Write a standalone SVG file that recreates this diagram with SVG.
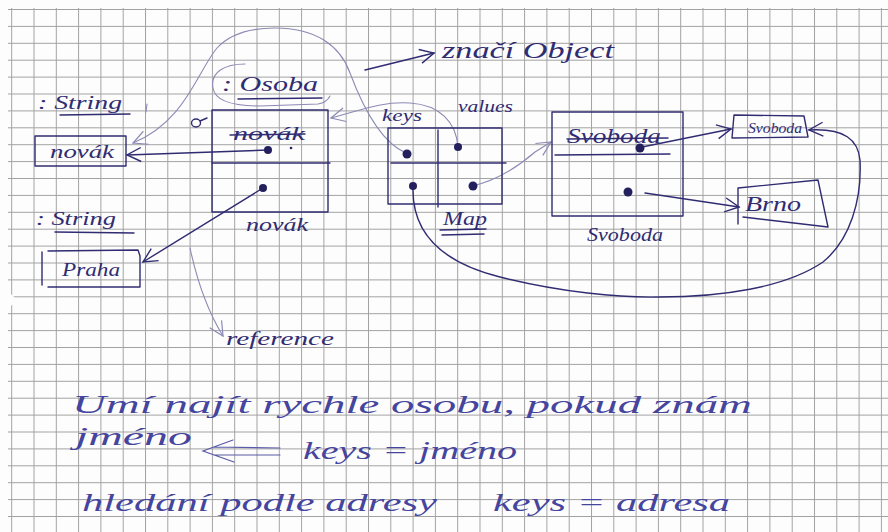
<svg xmlns="http://www.w3.org/2000/svg" width="888" height="532" viewBox="0 0 888 532">
<defs>
<pattern id="grid" patternUnits="userSpaceOnUse" x="11.2" y="9" width="22.3" height="16.9">
<path d="M0.5,0 V16.9 M0,0.5 H22.3" stroke="#a2a2a2" stroke-width="1" fill="none"/>
</pattern>
<marker id="arr" markerUnits="userSpaceOnUse" viewBox="0 0 18 18" markerWidth="18" markerHeight="18" refX="16" refY="9" orient="auto">
<path d="M2,2 L16,9 L2,16" fill="none" stroke="#302c72" stroke-width="1.4"/>
</marker>
<marker id="arrf" markerUnits="userSpaceOnUse" viewBox="0 0 18 18" markerWidth="18" markerHeight="18" refX="16" refY="9" orient="auto">
<path d="M2,2 L16,9 L2,16" fill="none" stroke="#8c8ab5" stroke-width="1.2"/>
</marker>
<style>
.ink{fill:none;stroke:#302c72;stroke-width:1.4;stroke-linecap:round;stroke-linejoin:round}
.faint{fill:none;stroke:#8c8ab5;stroke-width:1.1;stroke-linecap:round}
.dot{fill:#24205e}
.hw{font-family:"Liberation Serif","DejaVu Serif",serif;font-style:italic;fill:#302c72}
.nt{font-family:"Liberation Serif","DejaVu Serif",serif;font-style:italic;fill:#45459e;font-size:25px}
.blue{fill:none;stroke:#5a5aa8;stroke-width:1.2;stroke-linecap:round}
</style>
</defs>
<rect x="0" y="0" width="888" height="532" fill="#fdfdfd"/>
<rect x="8" y="8" width="880" height="524" fill="url(#grid)"/>
<ellipse cx="6" cy="300" rx="9" ry="7" fill="#fdfdfd"/>

<g id="connectors">
<path class="faint" d="M406,153 C380,142 362,105 350,73 C340,45 315,28 275,28 C245,28 228,36 217,48 C197,72 185,122 133,143" marker-end="url(#arrf)"/>
<path class="faint" d="M458,147 C456,122 440,105 410,103 C380,101 356,112 331,118" marker-end="url(#arrf)"/>
<path class="faint" d="M245,64 C225,64 210,72 213,88 C215,102 235,106 260,106 L318,104 C324,103 328,100 330,96"/>
<path class="faint" d="M190,248 C198,285 210,315 223,336" marker-end="url(#arrf)"/>
<path class="faint" d="M147,104 L146,112"/>
<path class="ink" d="M365,70 L434,53" marker-end="url(#arr)"/>
<path class="ink" d="M268,150 L127,155" marker-end="url(#arr)"/>
<path class="ink" d="M263,188 L143,262" marker-end="url(#arr)"/>
<path class="faint" d="M472,186 C500,180 520,165 535,152 L551,142" marker-end="url(#arrf)"/>
<path class="ink" d="M413,188 C412,232 440,262 500,277 C560,292 620,298 660,297 C720,297 785,288 823,262 C850,240 862,200 860,160 C858,140 845,128 809,130" marker-end="url(#arr)"/>
<path class="ink" d="M642,147 L731,129" marker-end="url(#arr)"/>
<path class="ink" d="M645,193 L739,207" marker-end="url(#arr)"/>
</g>

<g id="note-object">
<text class="hw" x="442" y="58" font-size="23" textLength="172" lengthAdjust="spacingAndGlyphs">značí Object</text>
</g>

<g id="string-novak">
<text class="hw" x="38" y="109" font-size="19" textLength="84" lengthAdjust="spacingAndGlyphs">: String</text>
<path class="ink" d="M60,115 L130,114"/>
<rect class="ink" x="35" y="136" width="91" height="30"/>
<text class="hw" x="50" y="158" font-size="18" textLength="64" lengthAdjust="spacingAndGlyphs">novák</text>
</g>

<g id="string-praha">
<text class="hw" x="36" y="225" font-size="19" textLength="80" lengthAdjust="spacingAndGlyphs">: String</text>
<path class="ink" d="M55,232 L134,233"/>
<path class="ink" d="M42,252 L42,285 M48,251 L138,250 L140,256 L140,287 M48,287 L140,287"/>
<text class="hw" x="62" y="276" font-size="19" textLength="58" lengthAdjust="spacingAndGlyphs">Praha</text>
</g>

<g id="osoba">
<text class="hw" x="222" y="91" font-size="22" textLength="96" lengthAdjust="spacingAndGlyphs">: Osoba</text>
<path class="ink" d="M238,99 L322,98"/>
<ellipse class="ink" cx="196" cy="123" rx="4.5" ry="4"/>
<path class="ink" d="M200,121 L207,118"/>
<rect class="ink" x="212" y="110" width="116" height="102"/>
<path class="ink" d="M212,163 L330,163"/>
<text class="hw" x="233" y="140" font-size="18" textLength="72" lengthAdjust="spacingAndGlyphs">novák</text>
<path class="ink" d="M230,135 L305,134"/>
<circle class="dot" cx="268" cy="150" r="4"/>
<circle class="dot" cx="291" cy="148" r="1.3"/>
<circle class="dot" cx="263" cy="188" r="4"/>
<text class="hw" x="246" y="231" font-size="18" textLength="62" lengthAdjust="spacingAndGlyphs">novák</text>
</g>

<g id="map">
<text class="hw" x="382" y="121" font-size="16" textLength="40" lengthAdjust="spacingAndGlyphs">keys</text>
<text class="hw" x="458" y="112" font-size="16" textLength="55" lengthAdjust="spacingAndGlyphs">values</text>
<rect class="ink" x="388" y="128" width="114" height="76"/>
<path class="ink" d="M438,130 L438,207 M391,163 L506,163"/>
<circle class="dot" cx="407" cy="154" r="4.5"/>
<circle class="dot" cx="458" cy="147" r="4"/>
<circle class="dot" cx="413" cy="186" r="4"/>
<circle class="dot" cx="473" cy="186" r="4.5"/>
<text class="hw" x="443" y="225" font-size="19" textLength="44" lengthAdjust="spacingAndGlyphs">Map</text>
<path class="ink" d="M440,230 L486,229 M442,235 L484,234"/>
</g>

<g id="svoboda">
<rect class="ink" x="552" y="112" width="131" height="104"/>
<text class="hw" x="567" y="143" font-size="21" textLength="94" lengthAdjust="spacingAndGlyphs">Svoboda</text>
<path class="ink" d="M567,139 L668,138"/>
<path class="ink" d="M555,155 L670,154"/>
<circle class="dot" cx="640" cy="148" r="4.5"/>
<circle class="dot" cx="628" cy="192" r="4.5"/>
<text class="hw" x="587" y="241" font-size="18" textLength="76" lengthAdjust="spacingAndGlyphs">Svoboda</text>
</g>

<g id="str-svoboda">
<path class="ink" d="M734,115 L804,116 L808,137 L732,138 Z"/>
<text class="hw" x="748" y="133" font-size="15" textLength="54" lengthAdjust="spacingAndGlyphs">Svoboda</text>
</g>

<g id="str-brno">
<path class="ink" d="M738,188 L818,180 L828,227 L743,217 M738,188 L738,224"/>
<text class="hw" x="745" y="211" font-size="22" textLength="56" lengthAdjust="spacingAndGlyphs">Brno</text>
</g>

<g id="note-reference">
<text class="hw" x="226" y="345" font-size="19" fill="#45459e" textLength="108" lengthAdjust="spacingAndGlyphs">reference</text>
</g>

<g id="notes">
<text class="nt" x="72" y="413" textLength="680" lengthAdjust="spacingAndGlyphs">Umí najít rychle osobu, pokud znám</text>
<text class="nt" x="75" y="445" textLength="117" lengthAdjust="spacingAndGlyphs">jméno</text>
<path class="blue" d="M280,448 L214,447 M280,455 L214,455 M233,440 L203,451 L234,462"/>
<text class="nt" x="303" y="459" textLength="214" lengthAdjust="spacingAndGlyphs">keys = jméno</text>
<text class="nt" x="82" y="511" textLength="355" lengthAdjust="spacingAndGlyphs">hledání podle adresy</text>
<text class="nt" x="493" y="511" textLength="237" lengthAdjust="spacingAndGlyphs">keys = adresa</text>
</g>
</svg>
